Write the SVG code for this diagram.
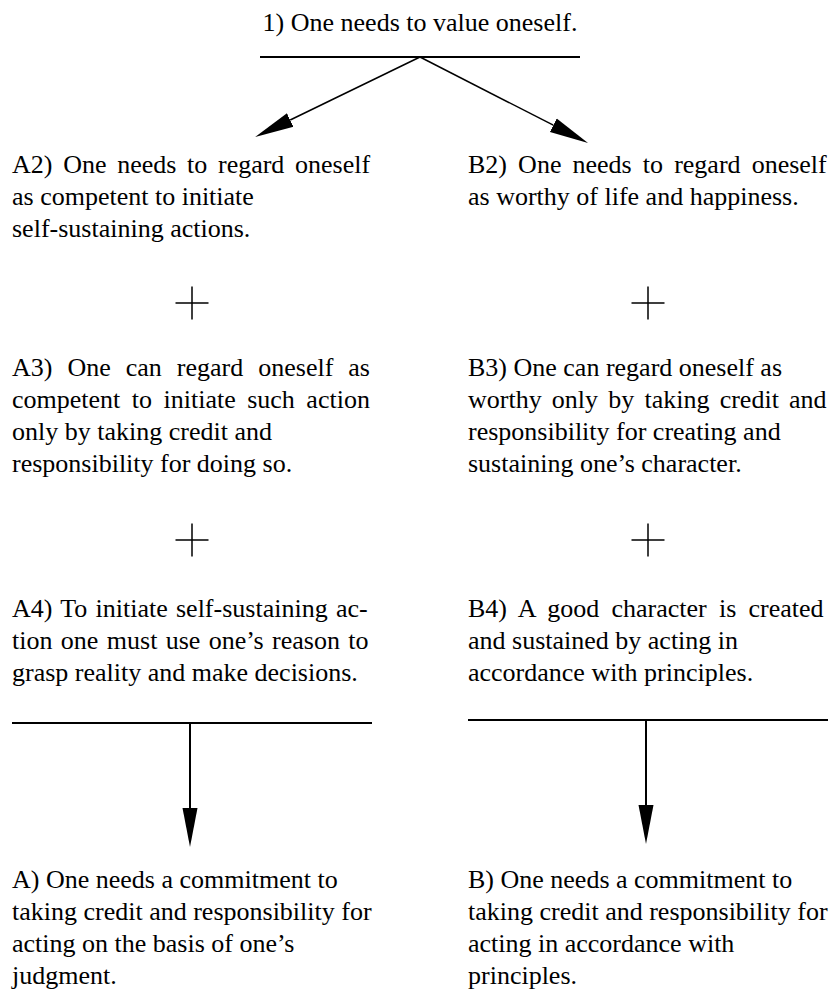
<svg xmlns="http://www.w3.org/2000/svg" width="831" height="991" viewBox="0 0 831 991">
<style>
  text { font-family: "Liberation Serif", "Times New Roman", serif; font-size: 26px; fill: #000; }
  .bar { stroke: #000; stroke-width: 2; fill: none; }
  .conn { stroke: #000; stroke-width: 1.5; fill: none; }
  .vconn { stroke: #000; stroke-width: 2; fill: none; }
  .plus { stroke: #000; stroke-width: 1.5; fill: none; }
</style>
<defs>
  <marker id="arrow" markerUnits="userSpaceOnUse" markerWidth="42" markerHeight="18" refX="0" refY="7.5" orient="auto" viewBox="0 0 42 15">
    <path d="M0,0 L39,7.5 L0,15 z" fill="#000"/>
  </marker>
</defs>

<g id="title">
  <text x="420" y="31" text-anchor="middle">1) One needs to value oneself.</text>
</g>

<g id="A2">
  <text x="12" y="173" word-spacing="4.2">A2) One needs to regard oneself</text>
  <text x="12" y="205">as competent to initiate</text>
  <text x="12" y="237">self-sustaining actions.</text>
</g>
<g id="B2">
  <text x="468" y="173" word-spacing="4.6">B2) One needs to regard oneself</text>
  <text x="468" y="205">as worthy of life and happiness.</text>
</g>

<g id="plusA1"><path class="plus" d="M175.5,303 H208.5 M192,286.5 V319.5"/></g>
<g id="plusB1"><path class="plus" d="M631.5,303 H664.5 M648,286.5 V319.5"/></g>

<g id="A3">
  <text x="12" y="376" word-spacing="8.5">A3) One can regard oneself as</text>
  <text x="12" y="408" word-spacing="5">competent to initiate such action</text>
  <text x="12" y="440">only by taking credit and</text>
  <text x="12" y="472">responsibility for doing so.</text>
</g>
<g id="B3">
  <text x="468" y="376">B3) One can regard oneself as</text>
  <text x="468" y="408" word-spacing="3.7">worthy only by taking credit and</text>
  <text x="468" y="440">responsibility for creating and</text>
  <text x="468" y="472">sustaining one’s character.</text>
</g>

<g id="plusA2"><path class="plus" d="M175.5,540 H208.5 M192,523.5 V556.5"/></g>
<g id="plusB2"><path class="plus" d="M631.5,540 H664.5 M648,523.5 V556.5"/></g>

<g id="A4">
  <text x="12" y="617" word-spacing="1.75">A4) To initiate self-sustaining ac-</text>
  <text x="12" y="649" word-spacing="1.9">tion one must use one’s reason to</text>
  <text x="12" y="681">grasp reality and make decisions.</text>
</g>
<g id="B4">
  <text x="468" y="617" word-spacing="5.7">B4) A good character is created</text>
  <text x="468" y="649">and sustained by acting in</text>
  <text x="468" y="681">accordance with principles.</text>
</g>

<g id="A">
  <text x="12" y="888">A) One needs a commitment to</text>
  <text x="12" y="920">taking credit and responsibility for</text>
  <text x="12" y="952">acting on the basis of one’s</text>
  <text x="12" y="984">judgment.</text>
</g>
<g id="B">
  <text x="468" y="888">B) One needs a commitment to</text>
  <text x="468" y="920">taking credit and responsibility for</text>
  <text x="468" y="952">acting in accordance with</text>
  <text x="468" y="984">principles.</text>
</g>

<g id="connectors">
  <line class="bar" x1="260" y1="57" x2="580" y2="57"/>
  <line class="conn" x1="420" y1="57" x2="290.2" y2="120" marker-end="url(#arrow)"/>
  <line class="conn" x1="420" y1="57" x2="553.3" y2="125.2" marker-end="url(#arrow)"/>
  <line class="bar" x1="12" y1="723" x2="372" y2="723"/>
  <line class="vconn" x1="190" y1="723" x2="190" y2="808" marker-end="url(#arrow)"/>
  <line class="bar" x1="468" y1="720" x2="828" y2="720"/>
  <line class="vconn" x1="646" y1="720" x2="646" y2="805" marker-end="url(#arrow)"/>
</g>
</svg>
